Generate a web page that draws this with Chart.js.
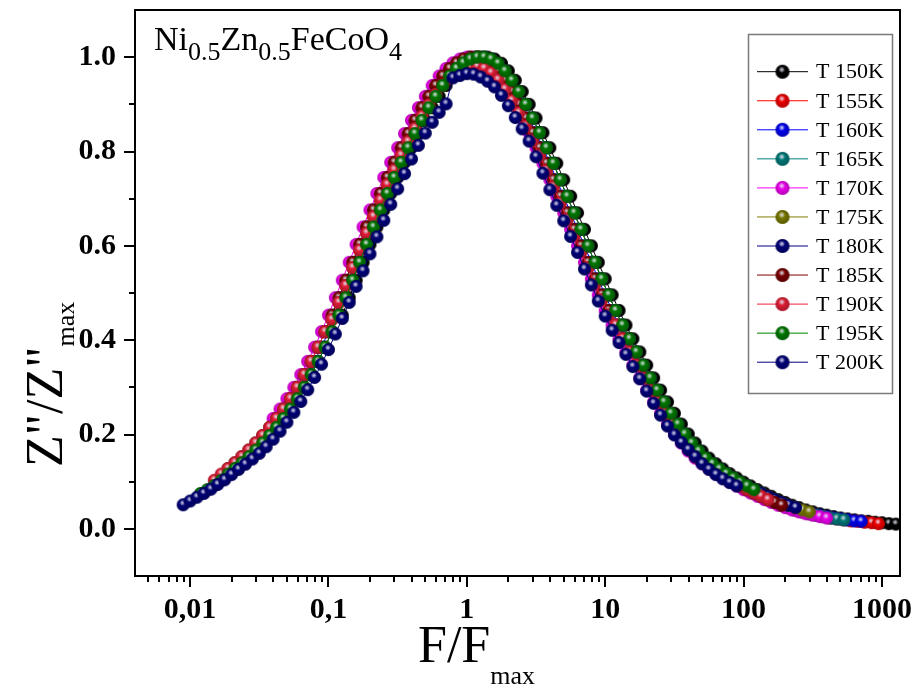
<!DOCTYPE html>
<html>
<head>
<meta charset="utf-8">
<title>Z''/Z''max vs F/Fmax</title>
<script src="https://cdn.jsdelivr.net/npm/chart.js@4.4.1/dist/chart.umd.min.js"></script>
<style>
  html, body { margin: 0; padding: 0; background: #fff; }
  canvas { display: block; }
</style>
</head>
<body>
<canvas id="relaxChart" width="919" height="688"></canvas>
<script>
// series labels and colours
const temps = ['T 150K', 'T 155K', 'T 160K', 'T 165K', 'T 170K', 'T 175K', 'T 180K', 'T 185K', 'T 190K', 'T 195K', 'T 200K'];
const colors = ['#000000', '#ff0000', '#0000ff', '#008080', '#ff00ff', '#808000', '#000080', '#800000', '#f0203a', '#008000', '#000080'];

// measuring frequencies (Hz) and the peak frequency of each temperature
const freq = [100, 112.2, 125.9, 141.3, 158.5, 177.8, 199.5, 223.9, 251.2, 281.8, 316.2, 354.8, 398.1, 446.7, 501.2, 562.3, 631, 707.9, 794.3, 891.3,
  1000, 1122, 1259, 1413, 1585, 1778, 1995, 2239, 2512, 2818, 3162, 3548, 3981, 4467, 5012, 5623, 6310, 7079, 7943, 8913,
  10000, 11220, 12589, 14125, 15849, 17783, 19953, 22387, 25119, 28184, 31623, 35481, 39811, 44668, 50119, 56234, 63096, 70795, 79433, 89125,
  100000, 112202, 125893, 141254, 158489, 177828, 199526, 223872, 251189, 281838, 316228, 354813, 398107, 446684, 501187, 562341, 630957, 707946, 794328, 891251,
  1000000];
const fMax = [794, 1059, 1413, 1884, 2512, 3350, 4217, 5309, 6683, 8414, 11220];

// normalised Z'' for each temperature (same order as freq)
const z150 = [0.453,0.490,0.527,0.565,0.603,0.640,0.676,
  0.711,0.745,0.777,0.808,0.838,0.866,0.893,0.917,0.940,0.960,
  0.976,0.988,0.996,1.000,1.000,0.996,0.987,0.971,0.951,0.927,
  0.900,0.871,0.840,0.808,0.775,0.740,0.705,0.670,0.635,0.600,
  0.565,0.530,0.496,0.463,0.432,0.403,0.375,0.347,0.320,0.294,
  0.269,0.245,0.222,0.201,0.182,0.165,0.150,0.138,0.127,0.117,
  0.108,0.099,0.091,0.083,0.076,0.069,0.062,0.056,0.050,0.045,
  0.040,0.036,0.032,0.029,0.026,0.023,0.021,0.019,0.017,0.016,
  0.014,0.013,0.011,0.010];
const z155 = [0.418,0.444,0.480,0.516,0.554,0.591,0.627,0.662,
  0.697,0.730,0.761,0.792,0.821,0.849,0.875,0.899,0.921,0.941,
  0.956,0.968,0.976,0.980,0.980,0.976,0.967,0.952,0.932,0.908,
  0.882,0.854,0.823,0.792,0.760,0.725,0.691,0.657,0.622,0.588,
  0.554,0.519,0.486,0.454,0.432,0.403,0.375,0.347,0.320,0.294,
  0.269,0.245,0.222,0.201,0.182,0.165,0.150,0.138,0.127,0.117,
  0.108,0.099,0.091,0.083,0.076,0.069,0.062,0.056,0.050,0.045,
  0.040,0.036,0.032,0.029,0.026,0.023,0.021,0.019,0.017,0.016,
  0.014,0.013,0.011];
const z160 = [0.327,0.355,0.385,0.418,0.453,0.490,0.527,0.565,0.603,0.640,0.676,
  0.711,0.745,0.777,0.808,0.838,0.866,0.893,0.917,0.940,0.960,
  0.968,0.979,0.987,0.990,0.990,0.987,0.978,0.965,0.947,0.925,
  0.900,0.871,0.840,0.808,0.775,0.740,0.705,0.670,0.635,0.600,
  0.565,0.530,0.496,0.463,0.432,0.403,0.375,0.347,0.320,0.294,
  0.269,0.245,0.222,0.201,0.182,0.165,0.150,0.138,0.127,0.117,
  0.108,0.099,0.091,0.083,0.076,0.069,0.062,0.056,0.050,0.045,
  0.040,0.036,0.032,0.029,0.026,0.023,0.021,0.019,0.017,0.016];
const z165 = [0.276,0.300,0.327,
  0.355,0.385,0.418,0.453,0.490,0.527,0.565,0.603,0.640,0.676,
  0.711,0.745,0.777,0.808,0.838,0.866,0.893,0.917,0.940,0.960,
  0.976,0.988,0.996,1.000,1.000,0.996,0.987,0.971,0.951,0.927,
  0.900,0.871,0.840,0.808,0.775,0.740,0.705,0.670,0.635,0.600,
  0.565,0.530,0.496,0.463,0.432,0.403,0.375,0.347,0.320,0.294,
  0.269,0.245,0.222,0.201,0.182,0.165,0.150,0.138,0.127,0.117,
  0.108,0.099,0.091,0.083,0.076,0.069,0.062,0.056,0.050,0.045,
  0.040,0.036,0.032,0.029,0.026,0.023,0.021,0.019];
const z170 = [0.234,0.254,0.276,0.300,0.327,
  0.355,0.385,0.418,0.453,0.490,0.527,0.565,0.603,0.640,0.676,
  0.711,0.745,0.777,0.808,0.838,0.866,0.893,0.917,0.940,0.960,
  0.976,0.988,0.996,1.000,1.000,0.996,0.987,0.971,0.951,0.927,
  0.900,0.871,0.840,0.808,0.775,0.740,0.705,0.670,0.635,0.600,
  0.565,0.530,0.496,0.463,0.432,0.403,0.375,0.347,0.320,0.294,
  0.269,0.245,0.222,0.201,0.182,0.165,0.150,0.138,0.127,0.117,
  0.108,0.099,0.091,0.083,0.076,0.069,0.062,0.056,0.050,0.045,
  0.040,0.036,0.032,0.029,0.026,0.023];
const z175 = [0.167,0.182,0.198,0.215,0.234,0.254,0.276,0.300,0.327,
  0.355,0.385,0.418,0.453,0.490,0.527,0.565,0.603,0.640,0.676,
  0.711,0.745,0.777,0.808,0.838,0.866,0.893,0.917,0.940,0.960,
  0.976,0.988,0.996,1.000,1.000,0.996,0.987,0.971,0.951,0.927,
  0.900,0.871,0.840,0.808,0.775,0.740,0.705,0.670,0.635,0.600,
  0.565,0.530,0.496,0.463,0.432,0.403,0.375,0.347,0.320,0.294,
  0.269,0.245,0.222,0.201,0.182,0.165,0.150,0.138,0.127,0.117,
  0.108,0.099,0.091,0.083,0.076,0.069,0.062,0.056,0.050,0.045,
  0.040,0.036];
const z180 = [0.140,0.153,0.167,0.182,0.198,0.215,0.234,0.254,0.276,0.300,0.327,
  0.355,0.385,0.418,0.453,0.490,0.527,0.565,0.603,0.640,0.676,
  0.711,0.745,0.777,0.808,0.838,0.866,0.893,0.917,0.940,0.960,
  0.976,0.988,0.996,1.000,1.000,0.996,0.987,0.971,0.951,0.927,
  0.900,0.871,0.840,0.808,0.775,0.740,0.705,0.670,0.635,0.600,
  0.565,0.530,0.496,0.463,0.432,0.403,0.375,0.347,0.320,0.294,
  0.269,0.245,0.222,0.201,0.182,0.165,0.150,0.138,0.127,0.117,
  0.108,0.099,0.091,0.083,0.076,0.069,0.062,0.056,0.050,0.045];
const z185 = [0.128,0.140,
  0.153,0.167,0.182,0.198,0.215,0.234,0.254,0.276,0.300,0.327,
  0.355,0.385,0.418,0.453,0.490,0.527,0.565,0.603,0.640,0.676,
  0.711,0.745,0.777,0.808,0.838,0.866,0.893,0.917,0.940,0.960,
  0.976,0.988,0.996,1.000,1.000,0.996,0.987,0.971,0.951,0.927,
  0.900,0.871,0.840,0.808,0.775,0.740,0.705,0.670,0.635,0.600,
  0.565,0.530,0.496,0.463,0.432,0.403,0.375,0.347,0.320,0.294,
  0.269,0.245,0.222,0.201,0.182,0.165,0.150,0.138,0.127,0.117,
  0.108,0.099,0.091,0.083,0.076,0.069,0.062,0.056,0.050];
const z190 = [0.103,0.116,0.128,0.140,
  0.153,0.167,0.182,0.198,0.215,0.234,0.254,0.276,0.300,0.327,
  0.355,0.385,0.418,0.444,0.480,0.516,0.554,0.591,0.627,0.662,
  0.697,0.730,0.761,0.792,0.821,0.849,0.875,0.899,0.921,0.941,
  0.956,0.968,0.976,0.980,0.980,0.976,0.967,0.952,0.932,0.908,
  0.882,0.854,0.823,0.792,0.760,0.725,0.691,0.657,0.622,0.588,
  0.554,0.519,0.486,0.454,0.432,0.403,0.375,0.347,0.320,0.294,
  0.269,0.245,0.222,0.201,0.182,0.165,0.150,0.138,0.127,0.117,
  0.108,0.099,0.091,0.083,0.076,0.069,0.062];
const z195 = [0.075,0.083,0.092,0.103,0.116,0.128,0.140,
  0.153,0.167,0.182,0.198,0.215,0.234,0.254,0.276,0.300,0.327,
  0.355,0.385,0.418,0.453,0.490,0.527,0.565,0.603,0.640,0.676,
  0.711,0.745,0.777,0.808,0.838,0.866,0.893,0.917,0.940,0.960,
  0.976,0.988,0.996,1.000,1.000,0.996,0.987,0.971,0.951,0.927,
  0.900,0.871,0.840,0.808,0.775,0.740,0.705,0.670,0.635,0.600,
  0.565,0.530,0.496,0.463,0.432,0.403,0.375,0.347,0.320,0.294,
  0.269,0.245,0.222,0.201,0.182,0.165,0.150,0.138,0.127,0.117,
  0.108,0.099,0.091,0.083];
const z200 = [0.051,0.059,0.067,0.075,0.084,0.094,0.104,0.115,0.126,0.137,
  0.148,0.160,0.174,0.190,0.207,0.226,0.247,0.270,0.295,0.321,
  0.349,0.380,0.413,0.446,0.480,0.514,0.547,0.583,0.619,0.654,
  0.688,0.721,0.753,0.784,0.813,0.839,0.862,0.883,0.901,0.956,
  0.961,0.965,0.964,0.958,0.949,0.937,0.919,0.897,0.872,0.848,
  0.822,0.789,0.754,0.719,0.686,0.653,0.620,0.586,0.551,0.517,
  0.483,0.451,0.421,0.395,0.370,0.344,0.318,0.292,0.266,0.241,
  0.218,0.199,0.183,0.168,0.153,0.138,0.126,0.115,0.106,0.098,
  0.091];
const zSeries = [z150, z155, z160, z165, z170, z175, z180, z185, z190, z195, z200];

// axes
const xTicks = [0.01, 0.1, 1, 10, 100, 1000];
const xTickLabels = ['0,01', '0,1', '1', '10', '100', '1000'];
const yTicks = [0, 0.2, 0.4, 0.6, 0.8, 1.0];
const yTickLabels = ['0.0', '0.2', '0.4', '0.6', '0.8', '1.0'];
const yMinorTicks = [0.1, 0.3, 0.5, 0.7, 0.9];

const SERIF = '"Liberation Serif", "Times New Roman", serif';

// shaded ball marker like the original plot
function makeBall(color, r) {
    const size = Math.ceil(r * 2) + 2;
    const c = document.createElement('canvas');
    c.width = size;
    c.height = size;
    const g = c.getContext('2d');
    const cx = size / 2, cy = size / 2;
    g.beginPath();
    g.arc(cx, cy, r, 0, Math.PI * 2);
    g.fillStyle = color;
    g.fill();
    const shade = g.createRadialGradient(cx - r * 0.2, cy - r * 0.3, r * 0.2, cx, cy, r);
    shade.addColorStop(0, 'rgba(0,0,0,0)');
    shade.addColorStop(1, 'rgba(0,0,0,0.3)');
    g.fillStyle = shade;
    g.fill();
    const hx = cx - r * 0.1, hy = cy - r * 0.3;
    const hi = g.createRadialGradient(hx, hy, 0, hx, hy, r * 0.45);
    hi.addColorStop(0, 'rgba(240,240,250,0.95)');
    hi.addColorStop(0.5, 'rgba(205,205,220,0.6)');
    hi.addColorStop(1, 'rgba(255,255,255,0)');
    g.fillStyle = hi;
    g.fill();
    return c;
}

const balls = colors.map(c => makeBall(c, 6.5));
const legendBalls = colors.map(c => makeBall(c, 7));

const datasets = temps.map((t, k) => ({
    label: t,
    data: freq.map((f, i) => ({ x: f / fMax[k], y: zSeries[k][i] })),
    borderColor: colors[k],
    backgroundColor: colors[k],
    borderWidth: 1,
    pointStyle: balls[k],
    pointRadius: 6.5,
    tension: 0,
    fill: false,
    order: temps.length - 1 - k
}));

// frame, minor ticks, titles, formula and legend
const decorPlugin = {
    id: 'decor',
    afterDraw(chart) {
        const ctx = chart.ctx;
        const a = chart.chartArea;
        const xs = chart.scales.x, ys = chart.scales.y;
        ctx.save();
        ctx.strokeStyle = '#000';
        ctx.lineWidth = 2;
        ctx.strokeRect(a.left, a.top, a.right - a.left, a.bottom - a.top);

        // minor ticks
        ctx.beginPath();
        for (let e = -3; e <= 3; e++) {
            for (let m = 2; m <= 9; m++) {
                const v = m * Math.pow(10, e);
                if (v <= xs.min || v >= xs.max) continue;
                const px = Math.round(xs.getPixelForValue(v));
                ctx.moveTo(px, a.bottom);
                ctx.lineTo(px, a.bottom + 6);
            }
        }
        yMinorTicks.forEach(v => {
            const py = Math.round(ys.getPixelForValue(v));
            ctx.moveTo(a.left, py);
            ctx.lineTo(a.left - 6, py);
        });
        ctx.stroke();

        ctx.fillStyle = '#000';
        ctx.textBaseline = 'alphabetic';
        ctx.textAlign = 'left';

        // x title F/Fmax
        ctx.font = '52px ' + SERIF;
        ctx.fillText('F/F', 418, 662);
        let w = ctx.measureText('F/F').width;
        ctx.font = '26px ' + SERIF;
        ctx.fillText('max', 418 + w, 684);

        // y title Z"/Z"max
        ctx.save();
        ctx.translate(62, 467);
        ctx.rotate(-Math.PI / 2);
        ctx.font = '52px ' + SERIF;
        ctx.fillText('Z"/Z"', 0, 0);
        w = ctx.measureText('Z"/Z"').width;
        ctx.font = '26px ' + SERIF;
        ctx.fillText('max', w, 12);
        ctx.restore();

        // sample formula
        const parts = [['Ni', false], ['0.5', true], ['Zn', false], ['0.5', true], ['FeCoO', false], ['4', true]];
        let tx = 154;
        parts.forEach(([s, sub]) => {
            ctx.font = (sub ? '26px ' : '34px ') + SERIF;
            ctx.fillText(s, tx, sub ? 60 : 50);
            tx += ctx.measureText(s).width;
        });

        // legend box
        ctx.strokeStyle = '#7a7a7a';
        ctx.lineWidth = 1.5;
        ctx.strokeRect(748.5, 34.5, 144, 359);
        ctx.font = '22px ' + SERIF;
        ctx.textBaseline = 'middle';
        temps.forEach((t, k) => {
            const yy = 71.7 + 29.05 * k;
            ctx.strokeStyle = colors[k];
            ctx.lineWidth = 1;
            ctx.beginPath();
            ctx.moveTo(757, yy);
            ctx.lineTo(808, yy);
            ctx.stroke();
            const b = legendBalls[k];
            ctx.drawImage(b, 782.5 - b.width / 2, yy - b.height / 2);
            ctx.fillStyle = '#000';
            ctx.fillText(t, 816, yy + 1);
        });
        ctx.restore();
    }
};

const ctxRelax = document.getElementById('relaxChart').getContext('2d');
const relaxChart = new Chart(ctxRelax, {
    type: 'line',
    data: { datasets: datasets },
    options: {
        responsive: false,
        animation: false,
        devicePixelRatio: 1,
        layout: { padding: { top: 10, right: 19, bottom: 0, left: 0 } },
        plugins: {
            legend: { display: false },
            tooltip: { enabled: false }
        },
        scales: {
            x: {
                type: 'logarithmic',
                min: 0.004,
                max: 1350,
                afterBuildTicks: s => { s.ticks = xTicks.map(v => ({ value: v })); },
                afterFit: s => { s.height = 112; s.paddingLeft = 0; s.paddingRight = 0; },
                ticks: {
                    callback: (v, i) => xTickLabels[i],
                    color: '#000',
                    font: { family: SERIF, size: 30, weight: 'bold' },
                    padding: 5,
                    maxRotation: 0,
                    autoSkip: false
                },
                grid: { drawOnChartArea: false, drawTicks: true, tickLength: 11, color: '#000', lineWidth: 2 },
                border: { display: false }
            },
            y: {
                type: 'linear',
                min: -0.1,
                max: 1.1,
                afterBuildTicks: s => { s.ticks = yTicks.map(v => ({ value: v })); },
                afterFit: s => { s.width = 135; s.paddingTop = 0; s.paddingBottom = 0; },
                ticks: {
                    callback: (v, i) => yTickLabels[i],
                    color: '#000',
                    font: { family: SERIF, size: 30, weight: 'bold' },
                    padding: 8
                },
                grid: { drawOnChartArea: false, drawTicks: true, tickLength: 11, color: '#000', lineWidth: 2 },
                border: { display: false }
            }
        }
    },
    plugins: [decorPlugin]
});
</script>
</body>
</html>
